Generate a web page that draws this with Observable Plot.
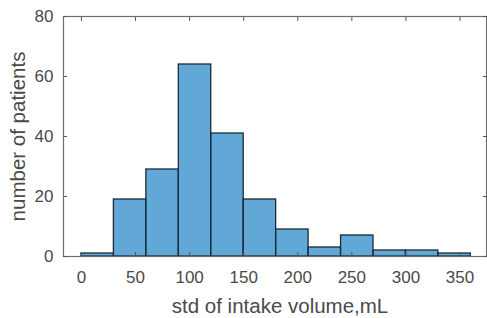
<!DOCTYPE html>
<html>
<head>
<meta charset="utf-8">
<script src="https://cdn.jsdelivr.net/npm/d3@7"></script>
<script src="https://cdn.jsdelivr.net/npm/@observablehq/plot@0.6"></script>
<style>
  html, body { margin: 0; padding: 0; background: #fff; overflow: hidden; }
  #chart svg { display: block; }
</style>
</head>
<body>
<div id="chart"></div>
<script>
const binStart = [0, 30, 60, 90, 120, 150, 180, 210, 240, 270, 300, 330];
const binWidth = 30;
const counts   = [1, 19, 29, 64, 41, 19, 9, 3, 7, 2, 2, 1];
const xTicks = [0, 50, 100, 150, 200, 250, 300, 350];
const yTicks = [0, 20, 40, 60, 80];

const data = binStart.map((s, i) => ({x1: s, x2: s + binWidth, count: counts[i]}));

const font = "Liberation Sans, Arial, sans-serif";
const textColor = "#4a4a4a";

const chart = Plot.plot({
  width: 487,
  height: 318,
  marginLeft: 63,
  marginRight: 1,
  marginTop: 16,
  marginBottom: 62,
  style: {fontFamily: font, fontSize: "17px", color: textColor, background: "#fff", maxWidth: "none"},
  x: {domain: [-16.6, 374.5]},
  y: {domain: [0, 80]},
  marks: [
    Plot.rectY(data, {x1: "x1", x2: "x2", y: "count", fill: "#0072BD", fillOpacity: 0.62, stroke: "#1b2a36", strokeWidth: 1.3}),
    Plot.frame({stroke: "#6e6e6e", strokeWidth: 1.2}),
    Plot.axisX({anchor: "bottom", ticks: xTicks, tickSize: 0, tickPadding: 14, label: null, fontSize: 17}),
    Plot.axisX({anchor: "bottom", ticks: xTicks, tickSize: -4, text: null, label: null, stroke: "#555"}),
    Plot.axisX({anchor: "top", ticks: xTicks, tickSize: -4, text: null, label: null, stroke: "#555"}),
    Plot.axisY({anchor: "left", ticks: yTicks, tickSize: 0, tickPadding: 10, label: null, fontSize: 17}),
    Plot.axisY({anchor: "left", ticks: yTicks, tickSize: -4, text: null, label: null, stroke: "#555"}),
    Plot.axisY({anchor: "right", ticks: yTicks, tickSize: -4, text: null, label: null, stroke: "#555"}),
    Plot.text(["std of intake volume,mL"], {frameAnchor: "bottom", lineAnchor: "middle", dy: 50, dx: 5, text: d => d, fontSize: 20.5, fill: textColor}),
    Plot.text(["number of patients"], {frameAnchor: "left", dx: -45, rotate: -90, textAnchor: "middle", lineAnchor: "middle", text: d => d, fontSize: 20.5, fill: textColor})
  ]
});
document.getElementById("chart").appendChild(chart);
</script>
</body>
</html>
